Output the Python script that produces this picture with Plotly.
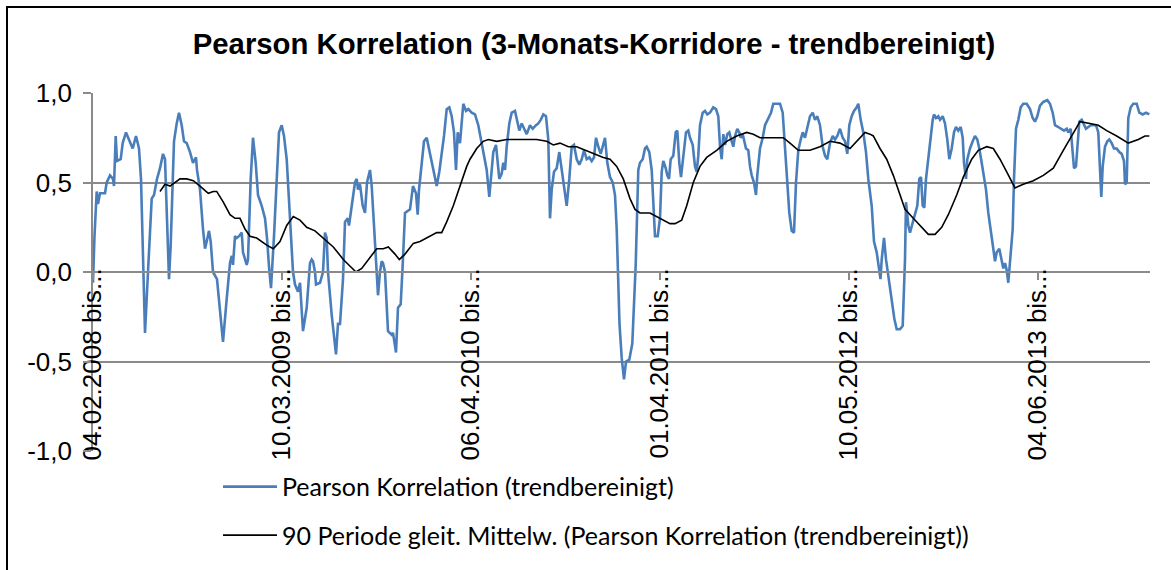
import plotly.graph_objects as go

# Rolling 3-month corridors, indexed by period number along the category axis
corr_idx = [
    0, 1.5, 3.7, 5, 7, 12, 13.7, 17, 20, 21, 22.7, 24, 27.7, 29.7, 33, 37, 39.7, 43, 46, 48,
    50, 52, 55, 58.7, 61, 64, 67, 70, 72, 74, 76, 77.7, 81, 83.7, 86, 88.7, 91, 93.7, 97, 100,
    103, 104, 107, 110, 112, 113.7, 116, 117.7, 120, 124, 128.7, 130, 133.7, 137, 138.7, 140, 142, 143.7, 146, 148.7,
    150, 153.7, 155, 157.7, 160, 162.7, 165, 168.7, 172, 174, 176, 178, 181, 183.7, 186, 188.7, 191, 193.7, 196, 198.7,
    200, 202, 205, 207, 210, 213.7, 217, 218.7, 220, 222, 223, 227, 230, 232, 233.7, 235, 238.7, 243, 245, 247,
    250, 252, 254.7, 256, 258.7, 262, 263.7, 265, 267, 269.7, 272, 274, 277, 278.7, 281, 283.7, 285, 287, 288.7, 290,
    292, 295, 298.7, 300, 303, 305, 307.7, 309.7, 312, 317, 318.7, 320, 323, 324.7, 326, 328.7, 331, 333.7, 336.3, 338.7,
    341, 343.7, 346.3, 348.7, 351, 353.7, 356.3, 358.7, 361, 363, 364.7, 367, 368.7, 370.3, 373, 375.3, 378.7, 382, 385.3, 388.7,
    391, 393.7, 396.3, 398, 400.3, 403, 404.7, 406.3, 408.7, 410.3, 412, 413.7, 416.3, 418.7, 422, 424.3, 426.3, 428.7, 431, 433.7,
    437, 439.7, 443, 445.3, 447.7, 450.3, 453, 455.3, 457, 458.7, 461, 463.7, 466.3, 468.7, 471, 473.7, 476.3, 478.7, 481, 483.7,
    486.3, 488.7, 491, 493.7, 496.3, 498.7, 501, 503, 505.3, 507.7, 509.7, 512, 514.3, 517, 519.7, 522, 523.7, 525, 526.5, 528.7,
    531, 533, 536.3, 539.3, 541, 542.7, 545.3, 547, 549.7, 552, 553.7, 556.3, 558.7, 560.3, 562, 564.7, 567, 568.7, 570.3, 572.7,
    574.3, 576, 577.7, 580.3, 582.7, 584.3, 586.3, 588, 590.3, 593, 595.3, 597, 599.7, 602, 603.7, 605.3, 607, 609.7, 612, 614.3,
    617, 620.3, 623, 625.3, 627, 628.7, 630.3, 632, 634.3, 636.3, 638.7, 640.3, 642, 644.3, 646.3, 647.7, 649.7, 651, 653, 655.3,
    657, 658.7, 661, 663, 664.3, 667, 669.7, 672, 675.3, 678, 680.3, 683.7, 687, 689.7, 692, 693.7, 696.3, 698.7, 701, 703,
    705.3, 707.7, 709.7, 712, 714.3, 717, 719.7, 722, 724.3, 727, 729.7, 732, 734.3, 737, 739.7, 742, 744.3, 747, 749.7, 752,
    754.3, 756.3, 758.7, 761, 763.7, 765.3, 767.7, 770.3, 773, 775.3, 778.7, 781, 783.7, 786.3, 787.5, 788.7, 791, 793, 796.3, 798.7,
    801.3, 803.7, 807, 809.7, 811, 812, 813, 815.3, 817, 819.7, 822, 824.3, 826.3, 828, 829.7, 831.3, 833, 835.3, 837.7, 839.7,
    841, 843, 845.3, 847, 849.7, 852, 854.3, 856.3, 858.7, 861, 863, 865.3, 867.7, 869.7, 871, 873, 874.3, 877, 879.7, 882,
    884.3, 886.3, 888.7, 891, 893, 895.3, 897.7, 900.3, 902, 903.7, 906.3, 908.7, 910.3, 912, 913.7, 915.3, 917, 919.7, 921, 923,
    925.3, 927.7, 930.3, 933.7, 937, 939.7, 942, 944.3, 947, 950.3, 954.3, 957, 959.7, 962, 965.3, 968.7, 971, 973.7, 975.3, 977.7,
    979.3, 981, 983, 984.3, 986.3, 988.7, 991, 993, 995.3, 997.7, 1000.3, 1003, 1005.3, 1007, 1008.3, 1009.7, 1012, 1014.3, 1016.3, 1018.7,
    1021, 1023.7, 1026.3, 1028.7, 1031, 1032, 1033.7, 1035.3, 1037.7, 1040.3, 1043.7, 1046.3, 1049.7, 1053, 1056.3,
]
corr_val = [
    -0.06, 0.20, 0.45, 0.38, 0.44, 0.44, 0.50, 0.54, 0.52, 0.48, 0.76, 0.62, 0.63, 0.72, 0.78, 0.73, 0.69, 0.76, 0.69, 0.52,
    0.10, -0.34, 0.00, 0.41, 0.43, 0.52, 0.58, 0.66, 0.63, 0.33, -0.04, 0.15, 0.73, 0.83, 0.89, 0.82, 0.73, 0.72, 0.67, 0.61,
    0.64, 0.57, 0.46, 0.24, 0.13, 0.17, 0.23, 0.17, 0.00, -0.04, -0.35, -0.39, -0.15, 0.05, 0.09, 0.04, 0.20, 0.19, 0.20, 0.22,
    0.11, 0.04, 0.07, 0.52, 0.75, 0.61, 0.43, 0.37, 0.30, 0.19, 0.03, -0.09, 0.20, 0.54, 0.78, 0.82, 0.76, 0.63, 0.37, 0.11,
    0.00, -0.07, -0.11, -0.06, -0.33, -0.20, 0.05, 0.07, 0.06, 0.00, -0.07, -0.06, 0.00, 0.22, 0.19, 0.00, -0.24, -0.46, -0.29, -0.29,
    -0.04, 0.28, 0.30, 0.26, 0.37, 0.50, 0.52, 0.46, 0.49, 0.37, 0.33, 0.50, 0.57, 0.48, 0.26, 0.00, -0.13, 0.00, 0.06, 0.05,
    0.00, -0.33, -0.35, -0.34, -0.45, -0.20, -0.18, 0.04, 0.33, 0.35, 0.44, 0.48, 0.44, 0.32, 0.46, 0.61, 0.73, 0.75, 0.68, 0.61,
    0.54, 0.48, 0.56, 0.65, 0.76, 0.91, 0.92, 0.87, 0.78, 0.57, 0.78, 0.72, 0.82, 0.94, 0.90, 0.91, 0.89, 0.88, 0.82, 0.72,
    0.63, 0.57, 0.42, 0.52, 0.67, 0.71, 0.63, 0.52, 0.55, 0.61, 0.57, 0.70, 0.83, 0.89, 0.90, 0.85, 0.79, 0.83, 0.80, 0.77,
    0.82, 0.80, 0.82, 0.83, 0.85, 0.88, 0.87, 0.74, 0.30, 0.46, 0.56, 0.58, 0.67, 0.57, 0.48, 0.37, 0.52, 0.70, 0.71, 0.63,
    0.60, 0.63, 0.68, 0.63, 0.64, 0.62, 0.64, 0.75, 0.70, 0.66, 0.70, 0.75, 0.61, 0.53, 0.50, 0.43, 0.24, 0.00, -0.29, -0.48,
    -0.60, -0.50, -0.49, -0.40, -0.20, 0.04, 0.57, 0.61, 0.63, 0.69, 0.70, 0.67, 0.57, 0.37, 0.20, 0.20, 0.30, 0.56, 0.62, 0.58,
    0.54, 0.52, 0.63, 0.65, 0.78, 0.79, 0.61, 0.53, 0.63, 0.78, 0.79, 0.75, 0.71, 0.59, 0.56, 0.65, 0.82, 0.89, 0.90, 0.88,
    0.89, 0.92, 0.91, 0.87, 0.70, 0.63, 0.77, 0.71, 0.77, 0.78, 0.73, 0.70, 0.76, 0.80, 0.78, 0.75, 0.77, 0.73, 0.69, 0.68,
    0.59, 0.54, 0.50, 0.43, 0.54, 0.69, 0.75, 0.82, 0.86, 0.89, 0.94, 0.94, 0.94, 0.89, 0.70, 0.54, 0.33, 0.23, 0.22, 0.50,
    0.68, 0.74, 0.78, 0.75, 0.81, 0.87, 0.89, 0.85, 0.87, 0.82, 0.70, 0.65, 0.63, 0.72, 0.76, 0.74, 0.76, 0.80, 0.75, 0.73,
    0.66, 0.82, 0.87, 0.90, 0.92, 0.94, 0.85, 0.78, 0.67, 0.52, 0.37, 0.17, 0.11, 0.00, -0.04, 0.07, 0.19, 0.07, -0.06, -0.13,
    -0.26, -0.32, -0.32, -0.30, -0.11, 0.07, 0.39, 0.26, 0.22, 0.28, 0.32, 0.37, 0.52, 0.53, 0.37, 0.36, 0.52, 0.63, 0.78, 0.85,
    0.88, 0.86, 0.87, 0.85, 0.87, 0.83, 0.74, 0.63, 0.69, 0.78, 0.81, 0.79, 0.81, 0.75, 0.61, 0.52, 0.63, 0.69, 0.73, 0.76,
    0.74, 0.69, 0.61, 0.54, 0.46, 0.33, 0.22, 0.13, 0.06, 0.11, 0.13, 0.07, 0.02, 0.05, 0.01, -0.06, 0.06, 0.24, 0.52, 0.80,
    0.85, 0.92, 0.94, 0.94, 0.91, 0.86, 0.84, 0.87, 0.93, 0.95, 0.96, 0.94, 0.89, 0.82, 0.81, 0.80, 0.79, 0.80, 0.78, 0.80,
    0.70, 0.58, 0.59, 0.70, 0.84, 0.85, 0.82, 0.80, 0.81, 0.82, 0.82, 0.82, 0.78, 0.61, 0.42, 0.59, 0.70, 0.73, 0.74, 0.72,
    0.69, 0.69, 0.67, 0.66, 0.62, 0.49, 0.50, 0.86, 0.92, 0.94, 0.94, 0.89, 0.88, 0.89, 0.88,
]

# 90-period moving average of the correlation
ma_idx = [
    67, 72, 77, 82, 87, 93.7, 100.3, 107, 115.3, 120.3, 123.7, 130.3, 137, 142, 147, 152, 157, 163.7, 173.7, 180.3,
    187, 193.7, 200.3, 207, 213.7, 222, 230.3, 240.3, 250.3, 257, 263, 268.7, 277, 283.7, 290.3, 295.3, 302, 306.3, 312, 320.3,
    327, 337, 343.7, 348.7, 353.7, 360.3, 367, 373.7, 377, 383.7, 390.3, 395.3, 403.7, 413.7, 423.7, 433.7, 443.7, 453.7, 460.3, 467,
    475.3, 483.7, 492, 500.3, 510.3, 517, 523.7, 530.3, 537, 542, 547, 557, 563.7, 570.3, 577, 582, 588.7, 593.7, 600.3, 607,
    613.7, 623.7, 633.7, 643.7, 653.7, 660.3, 667, 677, 690.3, 697, 705.3, 717, 727, 737, 747, 757, 763.7, 772, 777, 780.3,
    787, 793.7, 800.3, 807, 812, 820.3, 828.7, 835.3, 842, 848.7, 855.3, 863.7, 870.3, 878.7, 885.3, 893.7, 900.3, 907, 913.7, 922,
    930.3, 940.3, 950.3, 960.3, 970.3, 980.3, 987, 997, 1005.3, 1013.7, 1023.7, 1035.3, 1045.3, 1052, 1056.3,
]
ma_val = [
    0.45, 0.49, 0.48, 0.50, 0.52, 0.52, 0.51, 0.48, 0.44, 0.45, 0.45, 0.39, 0.32, 0.30, 0.30, 0.24, 0.20, 0.19, 0.15, 0.13,
    0.17, 0.26, 0.31, 0.29, 0.25, 0.23, 0.19, 0.14, 0.07, 0.03, 0.00, 0.02, 0.08, 0.13, 0.13, 0.14, 0.10, 0.07, 0.10, 0.16,
    0.17, 0.20, 0.22, 0.22, 0.28, 0.37, 0.48, 0.59, 0.63, 0.69, 0.73, 0.74, 0.73, 0.74, 0.74, 0.74, 0.74, 0.73, 0.71, 0.72,
    0.70, 0.70, 0.68, 0.66, 0.64, 0.63, 0.59, 0.52, 0.41, 0.35, 0.33, 0.33, 0.31, 0.29, 0.27, 0.27, 0.29, 0.37, 0.50, 0.59,
    0.64, 0.68, 0.73, 0.76, 0.78, 0.77, 0.75, 0.75, 0.75, 0.72, 0.68, 0.68, 0.70, 0.73, 0.72, 0.69, 0.73, 0.78, 0.77, 0.76,
    0.69, 0.63, 0.54, 0.43, 0.35, 0.30, 0.25, 0.21, 0.21, 0.25, 0.32, 0.43, 0.53, 0.63, 0.68, 0.70, 0.69, 0.63, 0.56, 0.47,
    0.49, 0.51, 0.54, 0.58, 0.68, 0.78, 0.84, 0.83, 0.82, 0.79, 0.76, 0.72, 0.74, 0.76, 0.76,
]

tick_pos = [0, 189, 378, 567, 756, 945]
tick_text = [
    "04.02.2008 bis...", "10.03.2009 bis...", "06.04.2010 bis...",
    "01.04.2011 bis...", "10.05.2012 bis...", "04.06.2013 bis...",
]
y_ticks = [-1.0, -0.5, 0.0, 0.5, 1.0]
y_tick_text = ["-1,0", "-0,5", "0,0", "0,5", "1,0"]

GRID = "#8a8a8a"
BLUE = "#4a7ebb"

fig = go.Figure()
fig.add_trace(go.Scatter(
    x=corr_idx, y=corr_val, mode="lines", name="Pearson Korrelation (trendbereinigt)",
    line=dict(color=BLUE, width=2.6), legendgroup="a",
))
fig.add_trace(go.Scatter(
    x=ma_idx, y=ma_val, mode="lines",
    name="90 Periode gleit. Mittelw. (Pearson Korrelation (trendbereinigt))",
    line=dict(color="black", width=1.6), legendgroup="b",
))

fig.update_layout(
    width=1171, height=570, autosize=False,
    margin=dict(l=93, r=21, t=93, b=115),
    paper_bgcolor="white", plot_bgcolor="white",
    separators=",.",
    title=dict(
        text="<b>Pearson Korrelation (3-Monats-Korridore - trendbereinigt)</b>",
        font=dict(family="Liberation Sans", size=29.3, color="black"),
        x=594 / 1171, xanchor="center", xref="container",
        y=1 - 44 / 570, yanchor="middle", yref="container",
    ),
    xaxis=dict(
        range=[0, 1057], anchor="free", position=0.5,
        tickmode="array", tickvals=tick_pos, ticktext=tick_text, tickangle=-90,
        ticks="outside", ticklen=7, tickwidth=1.5, tickcolor=GRID,
        showline=True, linecolor=GRID, linewidth=1.6,
        showgrid=False, zeroline=False,
        tickfont=dict(family="Liberation Sans", size=26, color="black"),
        ticklabelstandoff=-22,
    ),
    yaxis=dict(
        range=[-1, 1], tickmode="array", tickvals=y_ticks, ticktext=y_tick_text,
        ticks="outside", ticklen=8, tickwidth=1.5, tickcolor=GRID,
        showline=True, linecolor=GRID, linewidth=1.6,
        showgrid=True, gridcolor=GRID, gridwidth=1.6, zeroline=False,
        tickfont=dict(family="Liberation Sans", size=26, color="black"),
        ticklabelstandoff=6,
    ),
    showlegend=True,
    legend=dict(
        orientation="v", x=(218 - 93) / 1057, xanchor="left",
        y=(455 - 468) / 362, yanchor="top",
        font=dict(family="Lato", size=25, color="black"),
        itemwidth=54, tracegroupgap=13, bgcolor="rgba(0,0,0,0)",
    ),
    shapes=[dict(
        type="rect", xref="paper", yref="paper",
        x0=(7 - 93) / 1057, x1=(1200 - 93) / 1057,
        y0=(455 - 600) / 362, y1=(455 - 6) / 362,
        line=dict(color="black", width=2), fillcolor="rgba(0,0,0,0)", layer="below",
    )],
)

fig.write_html("out.html")
